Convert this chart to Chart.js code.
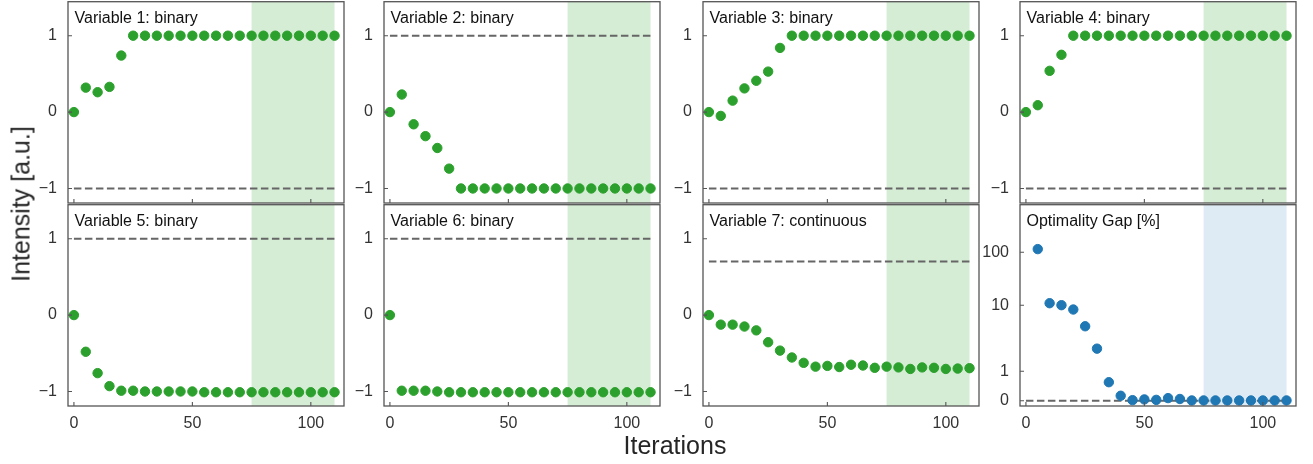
<!DOCTYPE html>
<html>
<head>
<meta charset="utf-8">
<script src="https://cdn.jsdelivr.net/npm/chart.js@4"></script>
<style>
  body { margin:0; background:#fff; width:1313px; height:464px; overflow:hidden; position:relative;
         font-family:"Liberation Sans", Arial, sans-serif; }
  canvas { position:absolute; }
  .lbl { position:absolute; font-size:25px; color:#262626; white-space:nowrap; line-height:1; }
  #ylab { left:21px; top:204px; transform:translate(-50%,-50%) rotate(-90deg); }
  #xlab { left:675px; top:445px; transform:translate(-50%,-50%); }
</style>
</head>
<body>
<div id="wrap"></div>
<div class="lbl" id="ylab">Intensity [a.u.]</div>
<div class="lbl" id="xlab">Iterations</div>
<script>
// data
const iterations = [0,5,10,15,20,25,30,35,40,45,50,55,60,65,70,75,80,85,90,95,100,105,110];
const var1 = [0,0.32,0.26,0.33,0.74,1,1,1,1,1,1,1,1,1,1,1,1,1,1,1,1,1,1];
const var2 = [0,0.23,-0.16,-0.315,-0.47,-0.74,-1,-1,-1,-1,-1,-1,-1,-1,-1,-1,-1,-1,-1,-1,-1,-1,-1];
const var3 = [0,-0.05,0.15,0.31,0.41,0.53,0.84,1,1,1,1,1,1,1,1,1,1,1,1,1,1,1,1];
const var4 = [0,0.09,0.54,0.75,1,1,1,1,1,1,1,1,1,1,1,1,1,1,1,1,1,1,1];
const var5 = [0,-0.48,-0.76,-0.93,-0.99,-0.99,-1,-1,-1,-1,-1,-1.01,-1.01,-1.01,-1.01,-1.01,-1.01,-1.01,-1.01,-1.01,-1.01,-1.01,-1.01];
const var6 = [0,-0.99,-0.99,-0.99,-1,-1.01,-1.01,-1.01,-1.01,-1.01,-1.01,-1.01,-1.01,-1.01,-1.01,-1.01,-1.01,-1.01,-1.01,-1.01,-1.01,-1.01,-1.01];
const var7 = [0,-0.125,-0.125,-0.15,-0.2,-0.355,-0.465,-0.555,-0.625,-0.675,-0.665,-0.68,-0.65,-0.66,-0.69,-0.675,-0.685,-0.705,-0.685,-0.69,-0.705,-0.7,-0.695];
const gapIterations = [5,10,15,20,25,30,35,40,45,50,55,60,65,70,75,80,85,90,95,100,105,110];
const gapValues = [115,10.9,10,8.6,4.8,2.2,0.63,0.17,0.02,0.045,0.03,0.09,0.06,0.01,0.01,0.01,0.01,0.01,0.01,0.01,0.01,0.01];
const varTitles = ['Variable 1: binary','Variable 2: binary','Variable 3: binary','Variable 4: binary',
                   'Variable 5: binary','Variable 6: binary','Variable 7: continuous'];
const refLevels = [-1, 1, -1, -1, 1, 1, 0.7];
const gapRef = 0;
const spanStart = 75, spanEnd = 110;
const xTicks = [0, 50, 100];
const yTicks = [-1, 0, 1];
const gapTicks = [0, 1, 10, 100];

const GREEN = '#2ca02c', BLUE = '#1f77b4';
const colLeft = [68, 384, 703, 1020];
const rowTop = [0, 203];
const areaW = 276, areaH = 203;
const padL = 55, padT = 4, padR = 6, padB = 30;

// axis stretch used on the gap panel: linear below 1, log above
function gapScale(v) {
  if (v <= 1) return v;
  if (v <= 10) return 1 + 2.245 * Math.log10(v);
  return 3.245 + 1.795 * Math.log10(v / 10);
}

const panelDeco = {
  id: 'panelDeco',
  beforeDatasetsDraw(chart, args, opts) {
    const {ctx, chartArea: a, scales: {x}} = chart;
    ctx.save();
    ctx.fillStyle = opts.shade;
    const x0 = x.getPixelForValue(spanStart), x1 = x.getPixelForValue(spanEnd);
    ctx.fillRect(x0, a.top, x1 - x0, a.bottom - a.top);
    ctx.restore();
  },
  afterDraw(chart, args, opts) {
    const {ctx, chartArea: a, scales: {x, y}} = chart;
    ctx.save();
    ctx.strokeStyle = '#555';
    ctx.lineWidth = 1.3;
    ctx.strokeRect(a.left, a.top, a.right - a.left, a.bottom - a.top);
    ctx.lineWidth = 1.1;
    ctx.beginPath();
    x.ticks.forEach(t => {
      const px = x.getPixelForValue(t.value);
      ctx.moveTo(px, a.bottom); ctx.lineTo(px, a.bottom - 4);
    });
    y.ticks.forEach(t => {
      const py = y.getPixelForValue(t.value);
      ctx.moveTo(a.left, py); ctx.lineTo(a.left + 4, py);
    });
    ctx.stroke();
    ctx.fillStyle = '#111';
    ctx.font = '16px "Liberation Sans", Arial, sans-serif';
    ctx.textBaseline = 'alphabetic';
    ctx.fillText(opts.title, a.left + 6.5, a.top + 21);
    ctx.restore();
  }
};

function makePanel(idx, title, xs, ys, ref, color, shade, yMin, yMax, ticks, labelFor) {
  const row = Math.floor(idx / 4), col = idx % 4;
  const cv = document.createElement('canvas');
  cv.width = areaW + padL + padR;
  cv.height = areaH + padT + padB;
  cv.style.left = (colLeft[col] - padL) + 'px';
  cv.style.top = (rowTop[row] - padT) + 'px';
  document.getElementById('wrap').appendChild(cv);

  new Chart(cv, {
    type: 'scatter',
    data: {
      datasets: [{
        data: xs.map((v, i) => ({x: v, y: ys[i]})),
        backgroundColor: color,
        borderColor: color,
        pointRadius: 4.7,
        pointHoverRadius: 4.7
      }, {
        type: 'line',
        data: [{x: 0, y: ref}, {x: 110, y: ref}],
        borderColor: '#666',
        borderWidth: 2,
        borderDash: [7.5, 3.5],
        pointRadius: 0,
        fill: false
      }]
    },
    options: {
      responsive: false,
      animation: false,
      layout: { padding: {left: 0, top: padT, right: padR, bottom: 0} },
      plugins: {
        legend: { display: false },
        tooltip: { enabled: false },
        panelDeco: { title: title, shade: shade }
      },
      scales: {
        x: {
          type: 'linear', min: -2.5, max: 114,
          grid: { display: false, drawTicks: false },
          border: { display: false },
          afterBuildTicks: s => { s.ticks = xTicks.map(v => ({value: v})); },
          afterFit: s => { s.height = padB; s.paddingLeft = 0; s.paddingRight = 0; },
          ticks: {
            padding: 8, color: '#333', maxRotation: 0,
            font: { family: '"Liberation Sans", Arial, sans-serif', size: 16 },
            callback: v => row === 1 ? String(v) : ''
          }
        },
        y: {
          type: 'linear', min: yMin, max: yMax,
          grid: { display: false, drawTicks: false },
          border: { display: false },
          afterBuildTicks: s => { s.ticks = ticks.map(v => ({value: v})); },
          afterFit: s => { s.width = padL; s.paddingTop = 0; s.paddingBottom = 0; },
          ticks: {
            padding: 11, color: '#333',
            font: { family: '"Liberation Sans", Arial, sans-serif', size: 16 },
            callback: (v, i) => labelFor(v, i)
          }
        }
      }
    },
    plugins: [panelDeco]
  });
}

const varSeries = [var1, var2, var3, var4, var5, var6, var7];
const minusLabel = v => String(v).replace('-', '\u2212');
varSeries.forEach((ys, i) => {
  makePanel(i, varTitles[i], iterations, ys, refLevels[i], GREEN, 'rgba(44,160,44,0.2)',
            -1.19, 1.445, yTicks, minusLabel);
});
makePanel(7, 'Optimality Gap [%]', gapIterations, gapValues.map(gapScale), gapScale(gapRef), BLUE,
          'rgba(31,119,180,0.15)', -0.178, 6.657, gapTicks.map(gapScale), (v, i) => String(gapTicks[i]));
</script>
</body>
</html>
